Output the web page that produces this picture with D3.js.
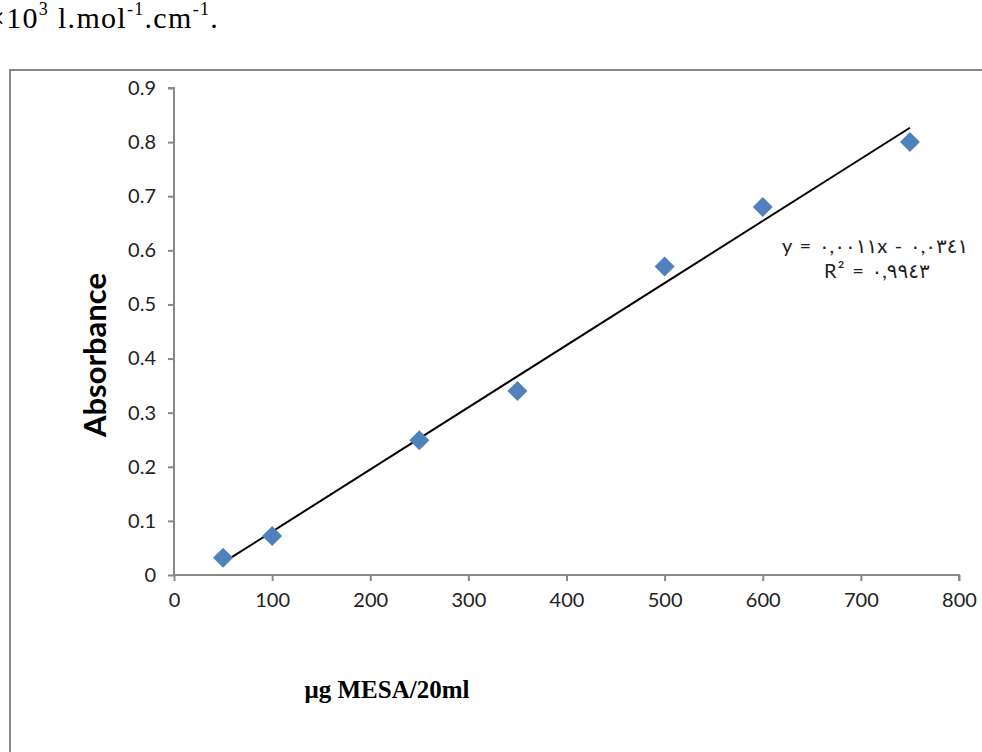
<!DOCTYPE html>
<html>
<head>
<meta charset="utf-8">
<script src="https://cdn.jsdelivr.net/npm/d3@7"></script>
<style>
  body { margin: 0; background: #fff; }
  svg { display: block; }
</style>
</head>
<body>
<div id="chart"></div>
<script>
// data
var concentration = [50, 100, 250, 350, 500, 600, 750];
var absorbance = [0.032, 0.072, 0.249, 0.34, 0.57, 0.68, 0.80];
var xTicks = [0, 100, 200, 300, 400, 500, 600, 700, 800];
var yTicks = [0, 0.1, 0.2, 0.3, 0.4, 0.5, 0.6, 0.7, 0.8, 0.9];
var eqText = "y = ٠,٠٠١١x - ٠,٠٣٤١";
var r2Value = "٠,٩٩٤٣";

var W = 982, H = 752;
var svg = d3.select("#chart").append("svg")
    .attr("width", W)
    .attr("height", H);

// text left over from the page above the chart (cut at the left edge, as in the scan)
var headText = svg.append("text")
    .attr("x", -12).attr("y", 28)
    .style("font-family", "'Liberation Serif', 'Times New Roman', serif")
    .style("font-size", "30px")
    .style("letter-spacing", "1.3px")
    .attr("fill", "#000");
headText.append("tspan").text("×10");
headText.append("tspan").attr("dy", -13).style("font-size", "18px").text("3");
headText.append("tspan").attr("dy", 13).text(" l.mol");
headText.append("tspan").attr("dy", -13).style("font-size", "18px").text("-1");
headText.append("tspan").attr("dy", 13).text(".cm");
headText.append("tspan").attr("dy", -13).style("font-size", "18px").text("-1");
headText.append("tspan").attr("dy", 13).text(".");

// chart frame (runs off the right and bottom edge)
svg.append("rect")
    .attr("x", 10).attr("y", 70)
    .attr("width", 1000).attr("height", 720)
    .attr("fill", "none")
    .attr("stroke", "#888")
    .attr("stroke-width", 2);

var x = d3.scaleLinear().domain([0, 800]).range([174, 959]);
var y = d3.scaleLinear().domain([0, 0.9]).range([575, 88]);

var tickFont = "Lato, 'Open Sans', sans-serif";

// Y axis
var yAxis = svg.append("g")
    .attr("transform", "translate(" + x(0) + ",0)")
    .call(d3.axisLeft(y).tickValues(yTicks).tickSize(6).tickPadding(12)
      .tickFormat(function(d) { return d === 0 ? "0" : d3.format(".1f")(d); }));
// X axis
var xAxis = svg.append("g")
    .attr("transform", "translate(0," + y(0) + ")")
    .call(d3.axisBottom(x).tickValues(xTicks).tickSize(6).tickPadding(12)
      .tickFormat(d3.format("d")));

[xAxis, yAxis].forEach(function(g) {
  g.select(".domain").attr("stroke", "#888").attr("stroke-width", 2);
  g.selectAll(".tick line").attr("stroke", "#888").attr("stroke-width", 2);
  g.selectAll(".tick text")
    .attr("fill", "#222")
    .style("font-family", tickFont)
    .style("font-size", "20px");
});
// plain domain lines without d3's outer ticks
yAxis.select(".domain").attr("d", "M-6," + y(0.9) + "H0V" + y(0));
xAxis.select(".domain").attr("d", "M" + x(0) + ",0H" + x(800) + "V6");

// least squares trendline through the points
var mx = d3.mean(concentration), my = d3.mean(absorbance);
var sxy = d3.sum(concentration, function(c, i) { return (c - mx) * (absorbance[i] - my); });
var sxx = d3.sum(concentration, function(c) { return (c - mx) * (c - mx); });
var slope = sxy / sxx, intercept = my - slope * mx;
var xMin = d3.min(concentration), xMax = d3.max(concentration);

svg.append("line")
    .attr("x1", x(xMin)).attr("y1", y(slope * xMin + intercept))
    .attr("x2", x(xMax)).attr("y2", y(slope * xMax + intercept))
    .attr("stroke", "#000")
    .attr("stroke-width", 2);

// diamond markers
svg.append("g")
  .selectAll("path")
  .data(concentration)
  .enter().append("path")
    .attr("d", "M0,-10L10,0L0,10L-10,0Z")
    .attr("transform", function(d, i) { return "translate(" + x(d) + "," + y(absorbance[i]) + ")"; })
    .attr("fill", "#4F81BD");

// trendline equation (runs past the right edge in the scan)
var eqFont = "Lato, 'DejaVu Sans', sans-serif";
svg.append("text")
    .attr("x", 782).attr("y", 253)
    .style("font-family", eqFont)
    .style("font-size", "20px")
    .style("letter-spacing", "1.3px")
    .attr("fill", "#222")
    .text(eqText);
svg.append("text")
    .attr("x", 824).attr("y", 278)
    .style("font-family", eqFont)
    .style("font-size", "20px")
    .style("letter-spacing", "1.3px")
    .attr("fill", "#222")
    .text("R² = " + r2Value);

// axis titles
svg.append("text")
    .attr("transform", "translate(106,355) rotate(-90)")
    .attr("text-anchor", "middle")
    .style("font-family", "Lato, 'Open Sans', sans-serif")
    .style("font-weight", "bold")
    .style("font-size", "31px")
    .attr("fill", "#000")
    .text("Absorbance");

svg.append("text")
    .attr("x", 387).attr("y", 698)
    .attr("text-anchor", "middle")
    .style("font-family", "'Liberation Serif', 'Times New Roman', serif")
    .style("font-weight", "bold")
    .style("font-size", "25px")
    .attr("fill", "#000")
    .text("μg MESA/20ml");
</script>
</body>
</html>
